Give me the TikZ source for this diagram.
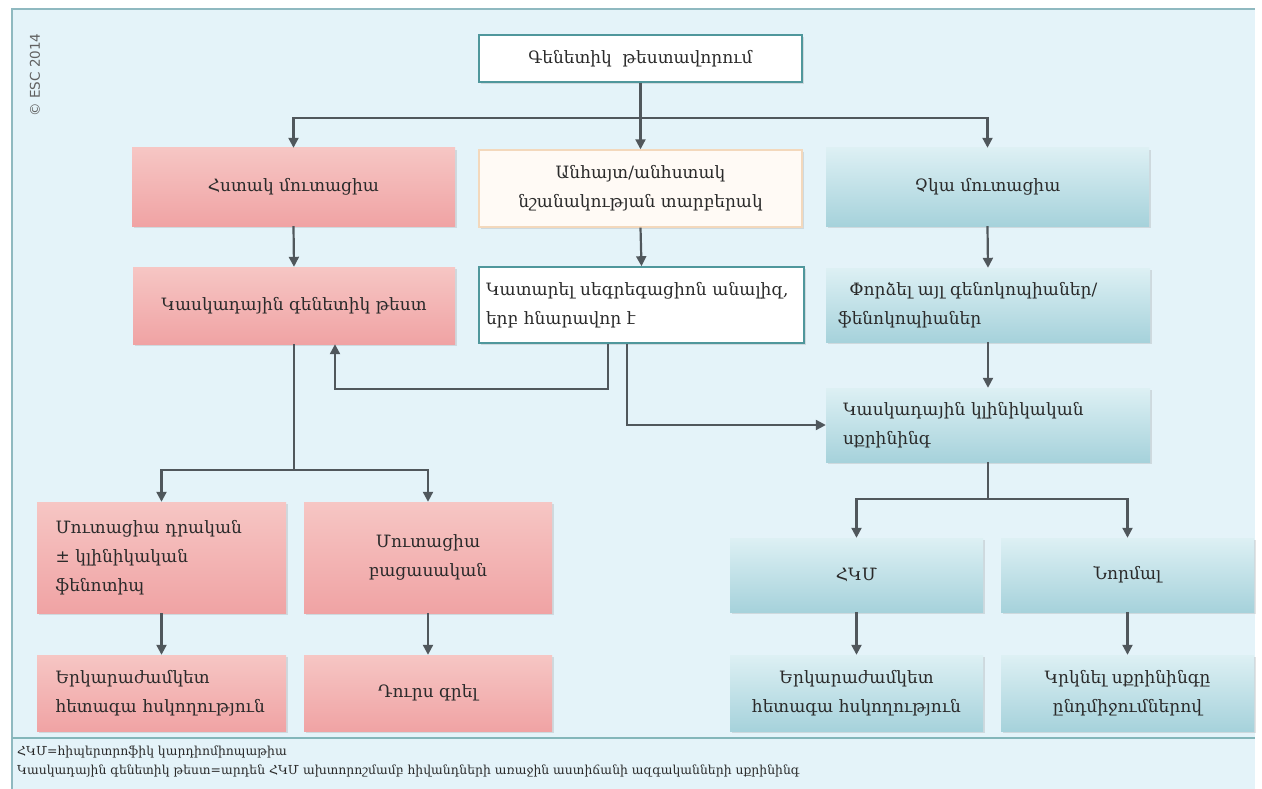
\documentclass[tikz,border=0pt]{standalone}
\usepackage{fontspec}
\setmainfont{DejaVu Serif}
\newfontfamily\esc{DejaVu Sans}
\usetikzlibrary{arrows.meta,shadows}
\definecolor{bgc}{HTML}{E4F3F9}
\definecolor{frame}{HTML}{8FB9C0}
\definecolor{pinkT}{HTML}{F6C6C4}
\definecolor{pinkB}{HTML}{F0A3A4}
\definecolor{tealT}{HTML}{DDF0F4}
\definecolor{tealB}{HTML}{A6D2DB}
\definecolor{tealline}{HTML}{4F979C}
\definecolor{peach}{HTML}{F3D8BC}
\definecolor{arrc}{HTML}{50575C}
\definecolor{txt}{HTML}{2A2A2A}
\begin{document}
\begin{tikzpicture}[x=1pt,y=-1pt,
  base/.style={inner sep=0pt, align=center, text=txt, font=\fontsize{17}{29}\selectfont,
    drop shadow={opacity=0.22, shadow xshift=2pt, shadow yshift=-2pt}},
  pinkbox/.style={base, top color=pinkT, bottom color=pinkB},
  tealbox/.style={base, top color=tealT, bottom color=tealB},
  whitebox/.style={base, fill=white, draw=tealline, line width=1.6pt},
  peachbox/.style={base, fill=white!96!orange, draw=peach, line width=1.4pt},
  arr/.style={draw=arrc, line width=2.2pt, -{Triangle[length=10pt,width=10pt]}},
  ln/.style={draw=arrc, line width=2.2pt},
  foot/.style={anchor=west, inner sep=0pt, text=txt, font=\fontsize{12.4}{14}\selectfont}
]
\useasboundingbox (0,0) rectangle (1262,789);
\fill[white] (0,0) rectangle (1262,789);
\fill[bgc] (12,9) rectangle (1255,789);
\draw[frame, line width=1.5pt] (12,789) -- (12,9) -- (1255,9);
\draw[tealline!70, line width=1.2pt] (12,738) -- (1255,738);

\node[rotate=90, text=black!62, font=\esc\fontsize{13.5}{15}\selectfont] (esc) at (35,75) {© ESC 2014};

% row 1
\node[whitebox, minimum width=323pt, minimum height=47pt] (gen) at (640.5,58.5) {Գենետիկ\ \ թեստավորում};
% row 2
\node[pinkbox, minimum width=323pt, minimum height=78pt] (hm) at (293.5,187) {Հստակ մուտացիա};
\node[peachbox, minimum width=323pt, minimum height=77pt] (unk) at (640.5,188.5) {Անհայտ/անհստակ\\նշանակության տարբերակ};
\node[tealbox, minimum width=323pt, minimum height=78pt] (nomut) at (987.5,187) {Չկա մուտացիա};
% row 3
\node[pinkbox, minimum width=322pt, minimum height=77pt] (cgt) at (294,305.5) {Կասկադային գենետիկ թեստ};
\node[whitebox, minimum width=325pt, minimum height=76pt, text width=311pt, align=left] (seg) at (641.5,305) {Կատարել սեգրեգացիոն անալիզ,\\երբ հնարավոր է};
\node[tealbox, minimum width=324pt, minimum height=74pt, text width=300pt, align=left] (pheno) at (988,305) {\ \ Փորձել այլ գենոկոպիաներ/\\ֆենոկոպիաներ};
\node[tealbox, minimum width=324pt, minimum height=74pt, text width=290pt, align=left] (ccs) at (988,425) {Կասկադային կլինիկական\\սքրինինգ};
% row 4
\node[pinkbox, minimum width=249pt, minimum height=111pt, text width=212pt, align=left] (pos) at (161.5,557.5) {Մուտացիա դրական\\± կլինիկական\\ֆենոտիպ};
\node[pinkbox, minimum width=248pt, minimum height=111pt] (neg) at (428,557.5) {Մուտացիա\\բացասական};
\node[tealbox, minimum width=253pt, minimum height=74pt] (hcm) at (856.5,575) {ՀԿՄ};
\node[tealbox, minimum width=253pt, minimum height=74pt] (norm) at (1127.5,575) {Նորմալ};
% row 5
\node[pinkbox, minimum width=249pt, minimum height=76pt, text width=212pt, align=left] (fu1) at (161.5,693) {Երկարաժամկետ\\հետագա հսկողություն};
\node[pinkbox, minimum width=248pt, minimum height=76pt] (disc) at (428,693) {Դուրս գրել};
\node[tealbox, minimum width=253pt, minimum height=76pt] (fu2) at (856.5,693) {Երկարաժամկետ\\հետագա հսկողություն};
\node[tealbox, minimum width=253pt, minimum height=76pt] (rep) at (1127.5,693) {Կրկնել սքրինինգը\\ընդմիջումներով};

% footer
\node[foot] (f1) at (17,752) {ՀԿՄ=հիպերտրոֆիկ կարդիոմիոպաթիա};
\node[foot] (f2) at (17,771) {Կասկադային գենետիկ թեստ=արդեն ՀԿՄ ախտորոշմամբ հիվանդների առաջին աստիճանի ազգականների սքրինինգ};

% connectors
\draw[arr] (gen.south) -- (unk.north);
\draw[arr] (gen.south) -- ++(0,35) -| (hm.north);
\draw[arr] (gen.south) -- ++(0,35) -| (nomut.north);
\draw[arr] (hm.south) -- (cgt.north);
\draw[arr] (unk.south) -- (seg.north);
\draw[arr] (nomut.south) -- (pheno.north);
\draw[arr] ([xshift=-33.5pt]seg.south) -- ++(0,45) -| ([xshift=41pt]cgt.south);
\draw[arr] ([xshift=-14.5pt]seg.south) |- (ccs.west);
\draw[arr] (pheno.south) -- (ccs.north);
\draw[ln] (cgt.south) -- ++(0,126) coordinate (cj);
\draw[arr] (cj) -| (pos.north);
\draw[arr] (cj) -| (neg.north);
\draw[arr] (pos.south) -- (fu1.north);
\draw[arr] (neg.south) -- (disc.north);
\draw[ln] (ccs.south) -- ++(0,37) coordinate (sj);
\draw[arr] (sj) -| (hcm.north);
\draw[arr] (sj) -| (norm.north);
\draw[arr] (hcm.south) -- (fu2.north);
\draw[arr] (norm.south) -- (rep.north);
\end{tikzpicture}
\end{document}
